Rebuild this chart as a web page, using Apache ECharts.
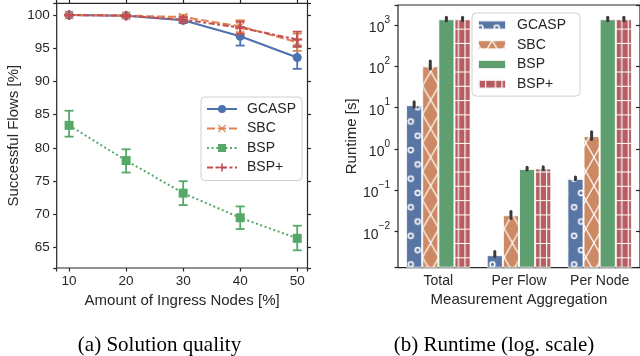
<!DOCTYPE html>
<html>
<head>
<meta charset="utf-8">
<script src="https://cdn.jsdelivr.net/npm/echarts@6/dist/echarts.min.js"></script>
<style>
  html, body { margin: 0; padding: 0; background: #fff; }
  #chart { width: 640px; height: 356px; }
</style>
</head>
<body>
<div id="chart"></div>
<script>
// ---- data: (a) solution quality ----
const ingress = [10, 20, 30, 40, 50];
const methods = ["GCASP", "SBC", "BSP", "BSP+"];

const gcaspQuality = [100, 99.9, 99.2, 96.8, 93.6];
const gcaspQualityLow = [99.9, 99.7, 98.8, 95.4, 91.9];
const gcaspQualityHigh = [100, 100, 99.6, 98.2, 95.4];

const sbcQuality = [100, 99.9, 99.7, 98.3, 95.9];
const sbcQualityLow = [99.9, 99.7, 99.2, 97.4, 94.6];
const sbcQualityHigh = [100, 100, 100, 99.2, 97.2];

const bspQuality = [83.4, 78.1, 73.2, 69.5, 66.4];
const bspQualityLow = [81.7, 76.3, 71.4, 67.8, 64.6];
const bspQualityHigh = [85.6, 79.8, 75.0, 71.2, 68.3];

const bspPlusQuality = [100, 99.9, 99.3, 98.1, 96.3];
const bspPlusQualityLow = [99.9, 99.7, 98.9, 97.1, 95.2];
const bspPlusQualityHigh = [100, 100, 99.7, 99.0, 97.5];

// ---- data: (b) runtime ----
const aggregations = ["Total", "Per Flow", "Per Node"];

const gcaspRuntime = [11.5, 0.0027, 0.19];
const gcaspRuntimeLow = [10.2, 0.0025, 0.18];
const gcaspRuntimeHigh = [14, 0.0033, 0.21];

const sbcRuntime = [100, 0.025, 2.05];
const sbcRuntimeLow = [86, 0.021, 1.7];
const sbcRuntimeHigh = [135, 0.031, 2.6];

const bspRuntime = [1380, 0.33, 1380];
const bspRuntimeLow = [1260, 0.31, 1260];
const bspRuntimeHigh = [1540, 0.36, 1540];

const bspPlusRuntime = [1380, 0.34, 1380];
const bspPlusRuntimeLow = [1260, 0.32, 1260];
const bspPlusRuntimeHigh = [1540, 0.37, 1540];

// ---- style ----
const ink = "#262626";
const colors = ["#4C72B0", "#DD8452", "#55A868", "#C44E52"];
// seaborn barplot desaturates the palette (saturation .75)
const barColors = ["#5875A4", "#CC8963", "#5F9E6E", "#B55D60"];
const sans = "Liberation Sans";

const gridA = { left: 56.7, top: 3.3, width: 250.8, height: 264.7 };
const gridB = { left: 398, top: 5, width: 245, height: 262.7 };

const crossPath = "path://M1,0 L5,4 L9,0 L10,1 L6,5 L10,9 L9,10 L5,6 L1,10 L0,9 L4,5 L0,1 Z";
const plusPath = "path://M4,0 H6 V4 H10 V6 H6 V10 H4 V6 H0 V4 H4 Z";

// hatch tiles for the bars, 16x28, scaled to the bar width
function makeTile(bg, draw) {
  const c = document.createElement("canvas");
  c.width = 16;
  c.height = 28;
  const ctx = c.getContext("2d");
  ctx.fillStyle = bg;
  ctx.fillRect(0, 0, 16, 28);
  ctx.strokeStyle = "#fff";
  ctx.lineWidth = 1.3;
  if (draw) draw(ctx);
  return c;
}

const band = gridB.width / aggregations.length;
const barW = band * 0.2;

function pattern(i, tile) {
  const s = barW / 16;
  return {
    image: tile,
    repeat: "repeat",
    x: gridB.left + band * 0.1 + i * barW,
    y: 0,
    scaleX: s,
    scaleY: s,
  };
}

const tiles = [
  makeTile(barColors[0], (ctx) => {
    ctx.lineWidth = 1.5;
    ctx.beginPath();
    ctx.arc(4.5, 7, 2.4, 0, Math.PI * 2);
    ctx.stroke();
    ctx.beginPath();
    ctx.arc(11.3, 21, 2.4, 0, Math.PI * 2);
    ctx.stroke();
  }),
  makeTile(barColors[1], (ctx) => {
    ctx.lineWidth = 1.2;
    ctx.beginPath();
    ctx.moveTo(0, 0);
    ctx.lineTo(16, 28);
    ctx.moveTo(16, 0);
    ctx.lineTo(0, 28);
    ctx.stroke();
  }),
  null,
  makeTile(barColors[3], (ctx) => {
    ctx.lineWidth = 1.1;
    ctx.beginPath();
    ctx.moveTo(3.2, 0);
    ctx.lineTo(3.2, 28);
    ctx.moveTo(9.6, 0);
    ctx.lineTo(9.6, 28);
    ctx.moveTo(0, 0.5);
    ctx.lineTo(16, 0.5);
    ctx.moveTo(0, 14.5);
    ctx.lineTo(16, 14.5);
    ctx.stroke();
  }),
];

const barFills = tiles.map((t, i) => (t ? pattern(i, t) : barColors[i]));

// ---- series builders ----
const qualityValues = [gcaspQuality, sbcQuality, bspQuality, bspPlusQuality];
const qualityLow = [gcaspQualityLow, sbcQualityLow, bspQualityLow, bspPlusQualityLow];
const qualityHigh = [gcaspQualityHigh, sbcQualityHigh, bspQualityHigh, bspPlusQualityHigh];
const runtimeValues = [gcaspRuntime, sbcRuntime, bspRuntime, bspPlusRuntime];
const runtimeLow = [gcaspRuntimeLow, sbcRuntimeLow, bspRuntimeLow, bspPlusRuntimeLow];
const runtimeHigh = [gcaspRuntimeHigh, sbcRuntimeHigh, bspRuntimeHigh, bspPlusRuntimeHigh];

const symbols = ["circle", crossPath, "rect", plusPath];
const symbolSizes = [9, 9, 9, 10];
const dashes = ["solid", [8, 3], [2, 2.6], [6, 2.5, 3, 2.5]];

const series = [];

methods.forEach((name, i) => {
  series.push({
    name: name,
    type: "line",
    xAxisIndex: 0,
    yAxisIndex: 0,
    data: ingress.map((x, j) => [x, qualityValues[i][j]]),
    symbol: symbols[i],
    symbolSize: symbolSizes[i],
    showAllSymbol: true,
    itemStyle: { color: colors[i] },
    lineStyle: { color: colors[i], width: 2, type: dashes[i] },
    z: 3 + i,
    animation: false,
  });
  series.push({
    name: "err " + name,
    type: "custom",
    xAxisIndex: 0,
    yAxisIndex: 0,
    data: ingress.map((x, j) => [x, qualityLow[i][j], qualityHigh[i][j]]),
    encode: { x: 0, y: [1, 2] },
    z: 3 + i,
    renderItem: (params, api) => {
      const lo = api.coord([api.value(0), api.value(1)]);
      const hi = api.coord([api.value(0), api.value(2)]);
      const st = { stroke: colors[i], lineWidth: 1.8 };
      const cap = 4.5;
      return {
        type: "group",
        children: [
          { type: "line", shape: { x1: lo[0], y1: lo[1], x2: hi[0], y2: hi[1] }, style: st },
          { type: "line", shape: { x1: lo[0] - cap, y1: lo[1], x2: lo[0] + cap, y2: lo[1] }, style: st },
          { type: "line", shape: { x1: hi[0] - cap, y1: hi[1], x2: hi[0] + cap, y2: hi[1] }, style: st },
        ],
      };
    },
    animation: false,
  });
});

methods.forEach((name, i) => {
  series.push({
    name: name + " runtime",
    type: "bar",
    xAxisIndex: 2,
    yAxisIndex: 2,
    data: runtimeValues[i],
    barGap: "0%",
    barCategoryGap: "20%",
    itemStyle: {
      color: barFills[i],
      borderColor: "rgba(255,255,255,0.85)",
      borderWidth: 1,
    },
    z: 2,
    animation: false,
  });
});

series.push({
  name: "runtime errors",
  type: "custom",
  xAxisIndex: 2,
  yAxisIndex: 2,
  data: methods.flatMap((m, i) =>
    aggregations.map((a, j) => [j, runtimeLow[i][j], runtimeHigh[i][j], i])
  ),
  encode: { x: 0, y: [1, 2] },
  z: 5,
  renderItem: (params, api) => {
    const lo = api.coord([api.value(0), api.value(1)]);
    const hi = api.coord([api.value(0), api.value(2)]);
    const bw = api.size([1, 0])[0] * 0.2;
    const dx = (api.value(3) - 1.5) * bw;
    return {
      type: "line",
      shape: { x1: lo[0] + dx, y1: lo[1], x2: hi[0] + dx, y2: hi[1] },
      style: { stroke: "#3a3a3a", lineWidth: 3, lineCap: "round" },
    };
  },
  animation: false,
});

// ---- axis helpers ----
const tick = { show: true, inside: false, length: 3.5, lineStyle: { color: ink, width: 1.2 } };

function sup(n) {
  return n < 0 ? "\u2212" + -n : String(n);
}

const option = {
  backgroundColor: "#fff",
  animation: false,
  textStyle: { fontFamily: sans, color: ink },
  grid: [
    Object.assign({ show: true, borderColor: ink, borderWidth: 1.2, backgroundColor: "transparent" }, gridA),
    Object.assign({ show: true, borderColor: ink, borderWidth: 1.2, backgroundColor: "transparent" }, gridB),
  ],
  xAxis: [
    {
      type: "value",
      gridIndex: 0,
      position: "bottom",
      min: 7.83,
      max: 51.8,
      splitNumber: 4,
      axisLine: { show: false },
      axisTick: tick,
      splitLine: { show: false },
      axisLabel: {
        margin: 6,
        fontSize: 13.5,
        color: ink,
        fontFamily: sans,
        formatter: (v) => (Math.abs(v % 10) < 1e-6 ? String(v) : ""),
      },
      name: "Amount of Ingress Nodes [%]",
      nameLocation: "middle",
      nameGap: 21,
      nameTextStyle: { fontSize: 15, color: ink, fontFamily: sans },
    },
    {
      type: "value",
      gridIndex: 0,
      position: "top",
      min: 7.83,
      max: 51.8,
      splitNumber: 4,
      axisLine: { show: false },
      axisTick: tick,
      splitLine: { show: false },
      axisLabel: { show: false },
    },
    {
      type: "category",
      gridIndex: 1,
      position: "bottom",
      data: aggregations,
      axisLine: { show: false },
      axisTick: { show: false },
      axisLabel: { margin: 6, fontSize: 14, color: ink, fontFamily: sans },
      name: "Measurement Aggregation",
      nameLocation: "middle",
      nameGap: 21,
      nameTextStyle: { fontSize: 15, color: ink, fontFamily: sans },
    },
  ],
  yAxis: [
    {
      type: "value",
      gridIndex: 0,
      position: "left",
      min: 61.94,
      max: 101.76,
      splitNumber: 7,
      axisLine: { show: false },
      axisTick: tick,
      splitLine: { show: false },
      axisLabel: {
        margin: 7,
        fontSize: 13.5,
        color: ink,
        fontFamily: sans,
        formatter: (v) => (Math.abs(v % 5) < 1e-6 ? String(v) : ""),
      },
      name: "Successful Flows [%]",
      nameLocation: "middle",
      nameGap: 35,
      nameTextStyle: { fontSize: 15, color: ink, fontFamily: sans },
    },
    {
      type: "value",
      gridIndex: 0,
      position: "right",
      min: 61.94,
      max: 101.76,
      splitNumber: 7,
      axisLine: { show: false },
      axisTick: tick,
      splitLine: { show: false },
      axisLabel: { show: false },
    },
    {
      type: "log",
      logBase: 10,
      gridIndex: 1,
      position: "left",
      min: 0.001346,
      max: 3048,
      startValue: 0.001346,
      axisLine: { show: false },
      axisTick: tick,
      splitLine: { show: false },
      minorTick: { show: false },
      axisLabel: {
        margin: 8,
        color: ink,
        fontFamily: sans,
        formatter: (v) => {
          const e = Math.log10(v);
          const n = Math.round(e);
          if (Math.abs(e - n) > 1e-6) return "";
          return "{b|10}{s|" + sup(n) + "}";
        },
        rich: {
          b: { fontSize: 14, lineHeight: 20, verticalAlign: "bottom", color: ink, fontFamily: sans },
          s: { fontSize: 10, lineHeight: 20, verticalAlign: "top", color: ink, fontFamily: sans },
        },
      },
      name: "Runtime [s]",
      nameLocation: "middle",
      nameGap: 39,
      nameTextStyle: { fontSize: 15, color: ink, fontFamily: sans },
    },
    {
      type: "log",
      logBase: 10,
      gridIndex: 1,
      position: "right",
      min: 0.001346,
      max: 3048,
      axisLine: { show: false },
      axisTick: { show: true, inside: true, length: 4, lineStyle: { color: ink, width: 1.2 } },
      splitLine: { show: false },
      axisLabel: { show: false },
    },
  ],
  legend: [
    {
      data: methods,
      orient: "vertical",
      left: 201,
      top: 97,
      padding: [4, 6, 5, 5],
      itemWidth: 30,
      itemHeight: 10,
      itemGap: 3.5,
      backgroundColor: "#fff",
      borderColor: "#d0d0d0",
      borderWidth: 1,
      borderRadius: 4,
      textStyle: { fontSize: 14, lineHeight: 16, color: ink, fontFamily: sans, padding: [0, 0, 0, 5] },
      selectedMode: false,
    },
    {
      data: methods.map((m) => m + " runtime"),
      orient: "vertical",
      left: 472,
      top: 13,
      padding: [4, 14, 4, 5],
      itemWidth: 28,
      itemHeight: 9,
      itemGap: 3.7,
      icon: "rect",
      backgroundColor: "#fff",
      borderColor: "#d0d0d0",
      borderWidth: 1,
      borderRadius: 4,
      formatter: (n) => n.replace(" runtime", ""),
      textStyle: { fontSize: 14, lineHeight: 16, color: ink, fontFamily: sans, padding: [0, 0, 0, 6] },
      selectedMode: false,
    },
  ],
  graphic: [
    {
      type: "text",
      x: 159.5,
      y: 345,
      style: { text: "(a) Solution quality", font: '21px "Liberation Serif"', fill: "#000", align: "center", verticalAlign: "middle" },
    },
    {
      type: "text",
      x: 494,
      y: 345,
      style: { text: "(b) Runtime (log. scale)", font: '21px "Liberation Serif"', fill: "#000", align: "center", verticalAlign: "middle" },
    },
  ],
  series: series,
};

const chart = echarts.init(document.getElementById("chart"));
chart.setOption(option);
</script>
</body>
</html>
